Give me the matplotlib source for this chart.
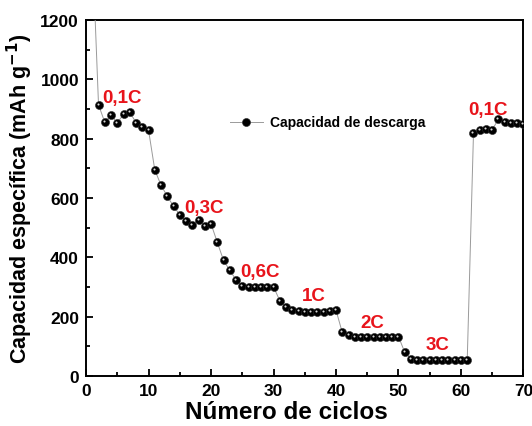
import matplotlib
matplotlib.use("Agg")
import matplotlib.pyplot as plt
from matplotlib import transforms
import numpy as np

plt.rcParams['font.family'] = ['Liberation Sans', 'DejaVu Sans']
plt.rcParams['font.weight'] = 'bold'

# datos
ciclos = np.arange(1, 71)
capacidad = [1450, 914, 855, 879, 853, 882, 889, 854, 840, 829,
             695, 643, 606, 572, 544, 521, 510, 525, 507, 513,
             451, 390, 356, 325, 304, 300, 299, 299, 299, 301,
             254, 231, 223, 219, 217, 216, 216, 216, 218, 222,
             147, 139, 133, 131, 131, 131, 131, 131, 132, 133,
             80, 57, 55, 55, 55, 55, 55, 55, 55, 55, 55,
             818, 828, 832, 830, 866, 856, 854, 853, 850]

etiquetas = ['0,1C', '0,3C', '0,6C', '1C', '2C', '3C', '0,1C']
etiq_x = [5.8, 18.8, 27.8, 36.5, 45.8, 56.3, 64.3]
etiq_y = [937, 569, 352, 273, 182, 107, 897]

fig = plt.figure(figsize=(5.32, 4.27), dpi=100)
ax = fig.add_axes([0.1617, 0.117, 0.8223, 0.834])

ax.plot(ciclos, capacidad, '-o', color='#9a9a9a', lw=0.7, mfc='black',
        mec='#2a2a2a', mew=0.4, ms=5.8, zorder=3, label='Capacidad de descarga')
# brillo de las esferas
brillo = transforms.offset_copy(ax.transData, fig=fig, x=-1.0, y=1.0, units='dots')
ax.plot(ciclos, capacidad, 'o', color='#d8d8d8', mec='none', ms=1.5,
        transform=brillo, zorder=4)

for t, x, y in zip(etiquetas, etiq_x, etiq_y):
    ax.text(x, y, t, color='#e8141b', fontsize=13.5, fontweight='bold',
            ha='center', va='center')

ax.set_xlim(0, 70)
ax.set_ylim(0, 1200)
ax.set_xticks(np.arange(0, 71, 10))
ax.set_xticks(np.arange(5, 70, 10), minor=True)
ax.set_yticks(np.arange(0, 1201, 200))
ax.set_yticks(np.arange(100, 1200, 200), minor=True)
ax.tick_params(which='both', direction='in', top=False, right=False,
               width=1.3, labelsize=12.5, pad=5)
ax.tick_params(which='major', length=5)
ax.tick_params(which='minor', length=3)
for lab in ax.get_xticklabels() + ax.get_yticklabels():
    lab.set_fontweight('bold')
for s in ax.spines.values():
    s.set_linewidth(1.4)

ax.set_xlabel('Número de ciclos', fontsize=17.5, fontweight='bold')
ax.xaxis.set_label_coords(0.457, -0.068)
ax.set_ylabel('Capacidad específica (mAh g$^{\\mathbf{-1}}$)', fontsize=15.5,
              fontweight='bold', labelpad=4)

leg = ax.legend(loc='center left', bbox_to_anchor=(0.30, 0.712), frameon=False,
                fontsize=10, handlelength=2.4, handletextpad=0.5)
for t in leg.get_texts():
    t.set_fontweight('bold')

fig.savefig('out.png', dpi=100)
